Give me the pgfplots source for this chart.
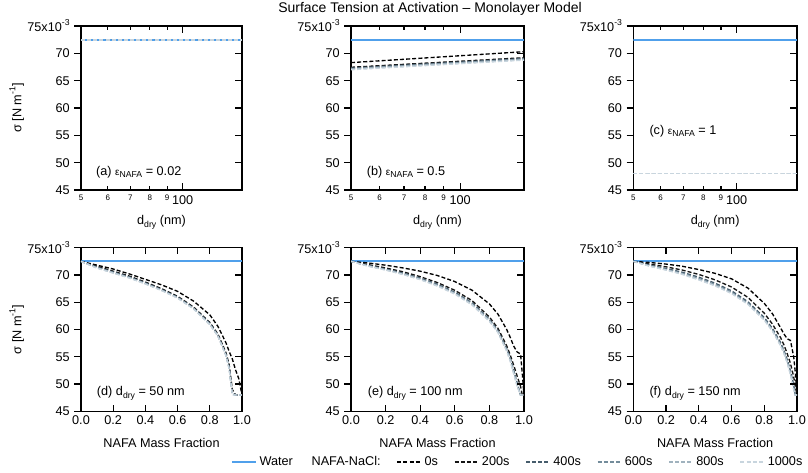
\documentclass[border=0pt]{standalone}
\usepackage{pgfplots}
\pgfplotsset{compat=1.18}
\usepackage{pgfplotstable}
\usetikzlibrary{calc}
\usepackage{fontspec}
\setmainfont{Liberation Sans}

\definecolor{watercol}{RGB}{80,160,235}
\definecolor{cA}{RGB}{0,0,0}
\definecolor{cB}{RGB}{20,20,20}
\definecolor{cC}{RGB}{70,92,108}
\definecolor{cD}{RGB}{115,140,155}
\definecolor{cE}{RGB}{160,178,190}
\definecolor{cF}{RGB}{200,213,222}

\newcommand\sub[1]{\raisebox{-0.4ex}{\fontsize{6.5}{7}\selectfont #1}}
\newcommand\sups[1]{\raisebox{0.9ex}{\fontsize{6.5}{7}\selectfont #1}}

\pgfplotstableread{
x s0 s200 s400 s600 s800 s1000
50 68.3 67.45 67.3 67.2 67.1 67.0
150 70.3 69.2 69.05 68.95 68.85 68.75
}\tabB

\pgfplotstableread{
x s0 s200 s400 s600 s800 s1000
0.00 72.5 72.5 72.5 72.5 72.5 72.5
0.10 71.8 71.6 71.45 71.35 71.3 71.25
0.20 71.1 70.7 70.55 70.45 70.4 70.35
0.30 70.2 69.8 69.65 69.55 69.5 69.45
0.40 69.2 68.7 68.55 68.45 68.4 68.35
0.50 68.2 67.5 67.35 67.25 67.2 67.15
0.60 67.0 66.1 65.95 65.85 65.8 65.75
0.70 65.2 64.1 63.95 63.85 63.8 63.75
0.80 62.7 61.3 61.15 61.0 60.95 60.9
0.85 60.6 59.2 59.0 58.9 58.85 58.8
0.90 57.6 55.8 55.5 55.35 55.3 55.2
0.92 56.0 53.6 53.2 53.0 52.9 52.8
0.94 54.6 49.0 48.4 48.2 48.1 48.0
0.96 52.6 48.0 48.0 48.0 48.0 48.0
0.98 51.0 48.0 48.0 48.0 48.0 48.0
0.99 49.5 48.0 48.0 48.0 48.0 48.0
1.00 48.0 48.0 48.0 48.0 48.0 48.0
}\tabD

\pgfplotstableread{
x s0 s200 s400 s600 s800 s1000
0.00 72.5 72.5 72.5 72.5 72.5 72.5
0.10 72.2 71.9 71.75 71.7 71.65 71.6
0.20 71.8 71.3 71.1 71.0 70.95 70.9
0.30 71.3 70.6 70.35 70.25 70.15 70.1
0.40 70.7 69.7 69.45 69.3 69.2 69.15
0.50 69.9 68.6 68.3 68.15 68.05 67.95
0.60 68.8 67.2 66.85 66.7 66.6 66.5
0.70 67.2 65.3 64.9 64.75 64.6 64.5
0.80 64.7 62.3 61.9 61.75 61.6 61.5
0.85 62.8 60.2 59.8 59.6 59.5 59.4
0.90 60.0 57.0 56.5 56.3 56.15 56.0
0.92 58.6 55.4 54.8 54.6 54.4 54.2
0.94 57.0 53.5 52.6 52.3 52.1 51.9
0.96 55.9 51.5 50.3 50.0 49.8 49.6
0.98 55.5 49.6 48.0 48.0 48.0 48.0
0.99 52.0 48.0 48.0 48.0 48.0 48.0
1.00 48.0 48.0 48.0 48.0 48.0 48.0
}\tabE

\pgfplotstableread{
x s0 s200 s400 s600 s800 s1000
0.00 72.5 72.5 72.5 72.5 72.5 72.5
0.10 72.3 72.0 71.8 71.7 71.65 71.6
0.20 72.0 71.5 71.2 71.05 70.95 70.9
0.30 71.6 70.9 70.5 70.3 70.2 70.1
0.40 71.0 70.1 69.6 69.35 69.2 69.1
0.50 70.3 69.1 68.5 68.25 68.1 68.0
0.60 69.3 67.8 67.1 66.85 66.7 66.6
0.70 67.6 65.9 65.1 64.85 64.7 64.6
0.80 64.8 63.0 62.2 61.95 61.8 61.7
0.85 62.9 61.0 60.2 59.95 59.8 59.7
0.90 60.3 58.5 57.6 57.3 57.1 57.0
0.92 59.2 57.2 56.2 55.9 55.7 55.6
0.94 58.3 55.6 54.5 54.2 54.0 53.9
0.96 58.0 53.8 52.5 52.1 51.9 51.7
0.98 55.0 51.3 49.8 49.4 49.1 48.9
0.99 52.0 49.5 48.0 48.0 48.0 48.0
1.00 48.0 48.0 48.0 48.0 48.0 48.0
}\tabF

\pgfplotsset{
  mypanel/.style={
    scale only axis,
    ymin=45, ymax=75,
    ytick={45,50,55,60,65,70,75},
    yticklabels={45,50,55,60,65,70,{75x10\sups{-3}}},
    ytick pos=left, ytick align=outside,
    xtick pos=both, xtick align=inside,
    major tick length=5pt,
    axis line style={line width=0.8pt, black},
    every tick/.style={black, line width=0.9pt},
    tick label style={font=\fontsize{9.5}{11}\selectfont},
    label style={font=\fontsize{9.5}{11}\selectfont},
    ylabel style={at={(axis description cs:-0.40,0.5)}, anchor=center},
    xlabel style={at={(axis description cs:0.5,-0.195)}, anchor=center},
  },
  mytop/.style={
    mypanel,
    xmin=50, xmax=150,
    xtick={100}, xticklabels={\raisebox{-7pt}{100}},
    extra x ticks={50,60,70,80,90},
    extra x tick labels={5,6,7,8,9},
    extra x tick style={major tick length=3pt, tick label style={font=\fontsize{6}{7}\selectfont}},
    xlabel={d\sub{dry} (nm)},
  },
  mybot/.style={
    mypanel,
    xmin=0, xmax=1,
    xtick={0,0.2,0.4,0.6,0.8,1.0},
    xticklabels={0.0,0.2,0.4,0.6,0.8,1.0},
    xlabel={NAFA Mass Fraction},
  },
  wl/.style={color=watercol, line width=1.5pt},
  sA/.style={color=cA, line width=1pt, dash pattern=on 3pt off 1.6pt},
  sB/.style={color=cB, line width=1pt, dash pattern=on 3pt off 1.6pt},
  sC/.style={color=cC, line width=1pt, dash pattern=on 3pt off 1.6pt},
  sD/.style={color=cD, line width=1pt, dash pattern=on 3pt off 1.6pt},
  sE/.style={color=cE, line width=1pt, dash pattern=on 3pt off 1.6pt},
  sF/.style={color=cF, line width=1pt, dash pattern=on 3pt off 1.6pt},
}

\newcommand\rt[1]{%
  \foreach \f in {0.166667,0.333333,0.5,0.666667,0.833333}{\draw[black, line width=0.9pt] ($(#1.south east)!\f!(#1.north east)$) -- ++(-5pt,0pt);}%
}

\begin{document}
\begin{tikzpicture}
\useasboundingbox (0,0) rectangle (606pt,-354pt);
\node[font=\fontsize{10.5}{12}\selectfont] at (322.5pt,-6.5pt) {Surface Tension at Activation – Monolayer Model};

% (a)
\begin{axis}[name=pa, xmode=log, mytop, at={(60.75pt,-19.5pt)}, anchor=north west, width=120.75pt, height=123pt,
  ylabel={σ [N m\sups{-1}]}]
\addplot[wl] coordinates {(50,72.5) (150,72.5)};
\addplot[sA] coordinates {(50,72.45) (150,72.45)};
\addplot[sB] coordinates {(50,72.45) (150,72.45)};
\addplot[sC] coordinates {(50,72.45) (150,72.45)};
\addplot[sD] coordinates {(50,72.45) (150,72.45)};
\addplot[sE] coordinates {(50,72.45) (150,72.45)};
\addplot[sF] coordinates {(50,72.45) (150,72.45)};
\node[anchor=west, font=\fontsize{9.5}{11}\selectfont] at (rel axis cs:0.065,{(48.3-45)/30}) {(a) {\fontsize{7.5}{8}\selectfont ε}\sub{NAFA} = 0.02};
\end{axis}
\rt{pa}

% (b)
\begin{axis}[name=pb, xmode=log, mytop, at={(263.25pt,-19.5pt)}, anchor=north west, width=129.75pt, height=123pt]
\addplot[wl] coordinates {(50,72.5) (150,72.5)};
\addplot[sA] table[x=x,y=s0] {\tabB};
\addplot[sB] table[x=x,y=s200] {\tabB};
\addplot[sC] table[x=x,y=s400] {\tabB};
\addplot[sD] table[x=x,y=s600] {\tabB};
\addplot[sE] table[x=x,y=s800] {\tabB};
\addplot[sF] table[x=x,y=s1000] {\tabB};
\node[anchor=west, font=\fontsize{9.5}{11}\selectfont] at (rel axis cs:0.065,{(48.3-45)/30}) {(b) {\fontsize{7.5}{8}\selectfont ε}\sub{NAFA} = 0.5};
\end{axis}
\rt{pb}

% (c)
\begin{axis}[name=pc, xmode=log, mytop, at={(475pt,-19.5pt)}, anchor=north west, width=122.75pt, height=123pt]
\addplot[wl] coordinates {(50,72.5) (150,72.5)};
\addplot[sA] coordinates {(50,48.0) (150,48.0)};
\addplot[sB] coordinates {(50,48.0) (150,48.0)};
\addplot[sC] coordinates {(50,48.0) (150,48.0)};
\addplot[sD] coordinates {(50,48.0) (150,48.0)};
\addplot[sE] coordinates {(50,48.0) (150,48.0)};
\addplot[sF] coordinates {(50,48.0) (150,48.0)};
\node[anchor=west, font=\fontsize{9.5}{11}\selectfont] at (rel axis cs:0.07,{(55.8-45)/30}) {(c) {\fontsize{7.5}{8}\selectfont ε}\sub{NAFA} = 1};
\end{axis}
\rt{pc}

% (d)
\begin{axis}[name=pd, mybot, at={(60.75pt,-185.8pt)}, anchor=north west, width=120.75pt, height=122.7pt,
  ylabel={σ [N m\sups{-1}]},
  legend style={at={(axis description cs:0.905,-0.31)}, anchor=west, draw=none, fill=none,
    legend columns=-1, font=\fontsize{9.5}{11}\selectfont,
    /tikz/every even column/.append style={column sep=10pt},
    /tikz/column 4/.append style={column sep=3pt}},
  legend image code/.code={\draw[#1] (0pt,0pt) -- (18pt,0pt);}]
\addplot[wl, forget plot] coordinates {(0,72.5) (1,72.5)};
\addplot[sA, forget plot] table[x=x,y=s0] {\tabD};
\addplot[sB, forget plot] table[x=x,y=s200] {\tabD};
\addplot[sC, forget plot] table[x=x,y=s400] {\tabD};
\addplot[sD, forget plot] table[x=x,y=s600] {\tabD};
\addplot[sE, forget plot] table[x=x,y=s800] {\tabD};
\addplot[sF, forget plot] table[x=x,y=s1000] {\tabD};
\addlegendimage{wl}\addlegendentry{Water}
\addlegendimage{empty legend}\addlegendentry{NAFA-NaCl:}
\addlegendimage{sA}\addlegendentry{0s}
\addlegendimage{sB}\addlegendentry{200s}
\addlegendimage{sC}\addlegendentry{400s}
\addlegendimage{sD}\addlegendentry{600s}
\addlegendimage{sE}\addlegendentry{800s}
\addlegendimage{sF}\addlegendentry{1000s}
\node[anchor=west, font=\fontsize{9.5}{11}\selectfont] at (rel axis cs:0.07,{(48.3-45)/30}) {(d) d\sub{dry} = 50 nm};
\end{axis}
\rt{pd}

% (e)
\begin{axis}[name=pe, mybot, at={(263.25pt,-185.8pt)}, anchor=north west, width=129.75pt, height=122.7pt]
\addplot[wl] coordinates {(0,72.5) (1,72.5)};
\addplot[sA] table[x=x,y=s0] {\tabE};
\addplot[sB] table[x=x,y=s200] {\tabE};
\addplot[sC] table[x=x,y=s400] {\tabE};
\addplot[sD] table[x=x,y=s600] {\tabE};
\addplot[sE] table[x=x,y=s800] {\tabE};
\addplot[sF] table[x=x,y=s1000] {\tabE};
\node[anchor=west, font=\fontsize{9.5}{11}\selectfont] at (rel axis cs:0.07,{(48.3-45)/30}) {(e) d\sub{dry} = 100 nm};
\end{axis}
\rt{pe}

% (f)
\begin{axis}[name=pf, mybot, at={(475pt,-185.8pt)}, anchor=north west, width=122.75pt, height=122.7pt]
\addplot[wl] coordinates {(0,72.5) (1,72.5)};
\addplot[sA] table[x=x,y=s0] {\tabF};
\addplot[sB] table[x=x,y=s200] {\tabF};
\addplot[sC] table[x=x,y=s400] {\tabF};
\addplot[sD] table[x=x,y=s600] {\tabF};
\addplot[sE] table[x=x,y=s800] {\tabF};
\addplot[sF] table[x=x,y=s1000] {\tabF};
\node[anchor=west, font=\fontsize{9.5}{11}\selectfont] at (rel axis cs:0.07,{(48.3-45)/30}) {(f) d\sub{dry} = 150 nm};
\end{axis}
\rt{pf}
\end{tikzpicture}
\end{document}
